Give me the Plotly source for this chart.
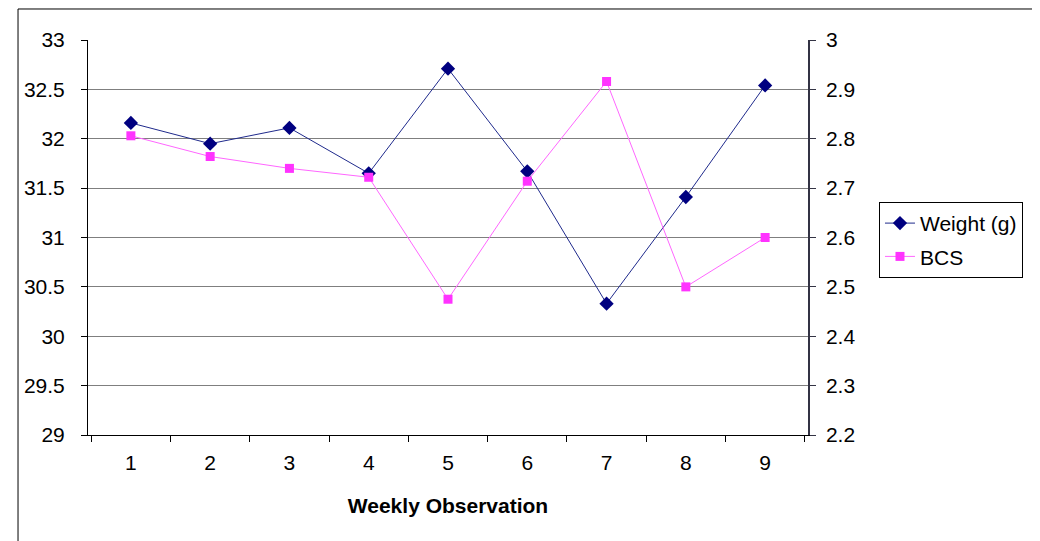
import plotly.graph_objects as go

weeks = ["1", "2", "3", "4", "5", "6", "7", "8", "9"]
weight_g = [32.16, 31.95, 32.11, 31.65, 32.71, 31.67, 30.33, 31.41, 32.54]
bcs = [2.806, 2.764, 2.740, 2.722, 2.475, 2.714, 2.916, 2.500, 2.600]

FONT = "Liberation Sans, Arial, sans-serif"
FS = 21

fig = go.Figure()
fig.add_trace(go.Scatter(
    x=weeks, y=weight_g, name="Weight (g)", mode="lines+markers",
    line=dict(color="#1f2a8c", width=1),
    marker=dict(symbol="diamond", size=11, color="#000080"),
    yaxis="y", legendgroup="a",
))
fig.add_trace(go.Scatter(
    x=weeks, y=bcs, name="BCS", mode="lines+markers",
    line=dict(color="#ff66ff", width=1),
    marker=dict(symbol="square", size=9, color="#ff33ff"),
    yaxis="y2", legendgroup="b",
))

# page body has an 8px margin: figure placed at (8, 8)
fig.update_layout(
    width=1032, height=533,
    margin=dict(l=80, r=232, t=32, b=106),
    paper_bgcolor="white", plot_bgcolor="white",
    font=dict(family=FONT, size=FS, color="black"),
    showlegend=True,
    legend=dict(
        x=1.0986, y=0.59, xanchor="left", yanchor="top",
        bordercolor="black", borderwidth=1, bgcolor="white",
        font=dict(size=FS), tracegroupgap=3, traceorder="grouped",
    ),
    xaxis=dict(
        type="category", tickson="boundaries", ticks="outside", ticklen=6,
        tickcolor="black", showline=True, linecolor="black", linewidth=1,
        showgrid=False, zeroline=False, ticklabelstandoff=9,
        title=dict(text="<b>Weekly Observation</b>", font=dict(size=FS), standoff=25),
    ),
    yaxis=dict(
        range=[29, 33], dtick=0.5, ticks="outside", ticklen=6, tickcolor="black",
        showline=True, linecolor="black", linewidth=1,
        showgrid=True, gridcolor="#7f7f7f", gridwidth=1.3, zeroline=False,
        ticklabelstandoff=12,
    ),
    yaxis2=dict(
        range=[2.2, 3.0], dtick=0.1, overlaying="y", side="right",
        ticks="outside", ticklen=6, tickcolor="#333344",
        showline=True, linecolor="#333344", linewidth=1.5,
        showgrid=False, zeroline=False, ticklabelstandoff=6,
    ),
    shapes=[dict(
        type="rect", xref="paper", yref="paper",
        x0=-0.0972, x1=1.35, y0=-0.3, y1=1.0785,
        line=dict(color="black", width=1), fillcolor="rgba(0,0,0,0)", layer="below",
    )],
)

fig.write_html("out.html")
